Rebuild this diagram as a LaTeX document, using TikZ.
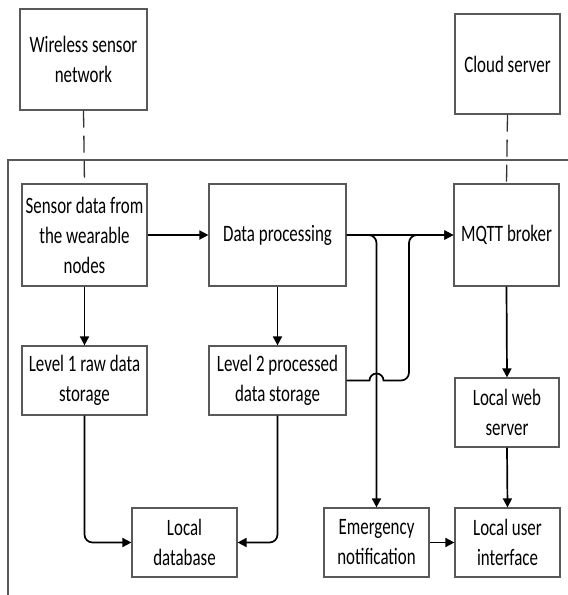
\documentclass[tikz,border=0pt]{standalone}
\usepackage{fontspec}
\setmainfont{Carlito}[FakeStretch=0.72]
\usetikzlibrary{arrows.meta}
\begin{document}
\begin{tikzpicture}[x=1pt,y=-1pt,
  box/.style={draw=black!65, line width=1.2pt, fill=white, inner sep=0pt, align=center,
    font=\fontsize{23.5}{30}\selectfont, text=black},
  conn/.style={draw=black, line width=1.7pt, -{Triangle[length=9pt,width=9pt]}},
  dashlink/.style={draw=black!80, line width=1.3pt, dash pattern=on 17pt off 8pt},
  frame/.style={draw=black!65, line width=1.2pt}]
\useasboundingbox (0,0) rectangle (568,595);
\fill[white] (0,0) rectangle (568,595);
\draw[frame] (568,160) -- (8,160) -- (8,595);
\node[box, minimum width=127pt, minimum height=101pt] (wsn) at (83.5,59.5) {Wireless sensor\\network};
\node[box, minimum width=105pt, minimum height=100pt] (cloud) at (507.5,64) {Cloud server};
\node[box, minimum width=125pt, minimum height=102pt] (sensor) at (84.5,235) {Sensor data from\\the wearable\\nodes};
\node[box, minimum width=137pt, minimum height=102pt] (dp) at (277.5,235) {Data processing};
\node[box, minimum width=105pt, minimum height=102pt] (mqtt) at (506.5,235) {MQTT broker};
\node[box, minimum width=125pt, minimum height=69pt] (l1) at (84.5,380.5) {Level 1 raw data\\storage};
\node[box, minimum width=137pt, minimum height=69pt] (l2) at (277.5,380.5) {Level 2 processed\\data storage};
\node[box, minimum width=104pt, minimum height=69pt] (lws) at (507,412.5) {Local web\\server};
\node[box, minimum width=105pt, minimum height=69pt] (db) at (184.5,542.5) {Local\\database};
\node[box, minimum width=105pt, minimum height=69pt] (em) at (376.5,542.5) {Emergency\\notification};
\node[box, minimum width=105pt, minimum height=69pt] (lui) at (507.5,542.5) {Local user\\interface};
% dashed links
\draw[dashlink] (wsn.south) -- (sensor.north);
\draw[dashlink] (cloud.south) -- (mqtt.north);
% connectors
\draw[conn] (sensor.east) -- (dp.west);
\draw[conn] (sensor.south) -- (l1.north);
\draw[conn] (dp.south) -- (l2.north);
\draw[conn] (dp.east) -- (mqtt.west);
\draw[conn, rounded corners=8pt] (dp.east) -- (dp.east -| em.north) -- (em.north);
\draw[conn] (l2.east) -- (369.5,380.5) arc[start angle=180, end angle=0, radius=7pt]
  [rounded corners=8pt] -- (409,380.5) -- (409,235) -- (mqtt.west);
\draw[conn] (mqtt.south) -- (lws.north);
\draw[conn] (lws.south) -- (lui.north);
\draw[conn] (em.east) -- (lui.west);
\draw[conn, rounded corners=8pt] (l1.south) -- (l1.south |- db.west) -- (db.west);
\draw[conn, rounded corners=8pt] (l2.south) -- (l2.south |- db.east) -- (db.east);
\end{tikzpicture}
\end{document}
